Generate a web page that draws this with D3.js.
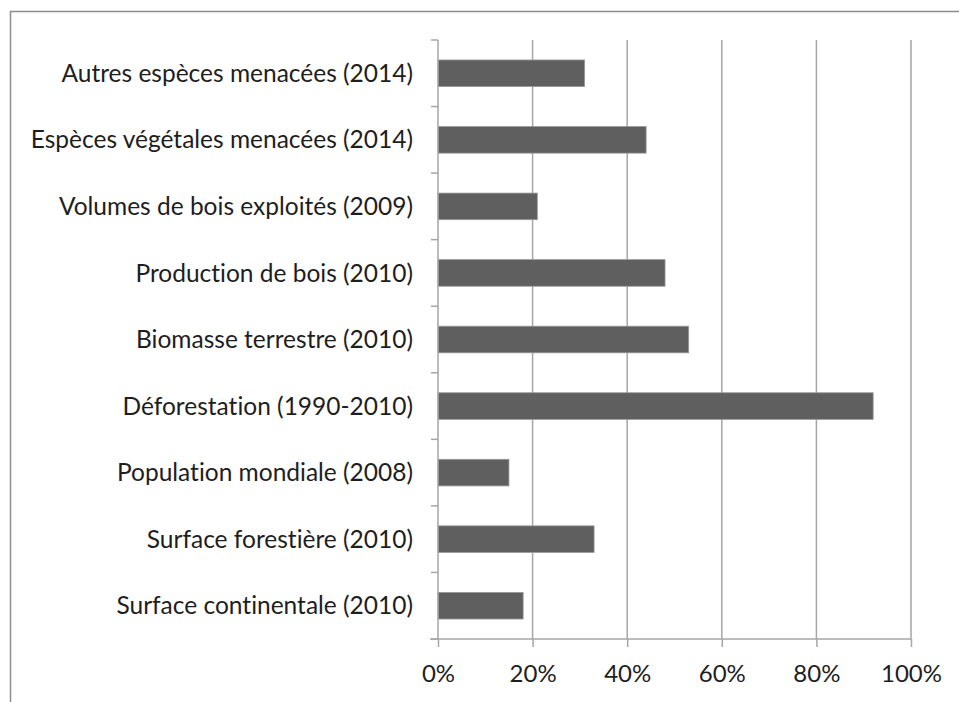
<!DOCTYPE html>
<html>
<head>
<meta charset="utf-8">
<script src="https://cdn.jsdelivr.net/npm/d3@7"></script>
<style>
  body { margin: 0; background: #fff; }
  svg text { font-family: Lato, "Open Sans", sans-serif; fill: #1e1e1e; font-variant-ligatures: none; }
</style>
</head>
<body>
<div id="chart"></div>
<script>
// categories top to bottom, value as share (0..1)
var categories = [
    'Autres espèces menacées (2014)',
    'Espèces végétales menacées (2014)',
    'Volumes de bois exploités (2009)',
    'Production de bois (2010)',
    'Biomasse terrestre (2010)',
    'Déforestation (1990-2010)',
    'Population mondiale (2008)',
    'Surface forestière (2010)',
    'Surface continentale (2010)'
];
var values = [0.31, 0.44, 0.21, 0.48, 0.53, 0.92, 0.15, 0.33, 0.18];
var xTicks = [0, 0.2, 0.4, 0.6, 0.8, 1];

var svgWidth = 959, svgHeight = 702;
var margin = { top: 40, left: 438, right: 48, bottom: 63 };
var width = svgWidth - margin.left - margin.right;
var height = svgHeight - margin.top - margin.bottom;

var svg = d3.select('#chart')
    .append('svg')
    .attr('width', svgWidth)
    .attr('height', svgHeight);

// outer frame (cropped on the right and bottom)
svg.append('rect')
    .attr('x', 10.5).attr('y', 11.5)
    .attr('width', 1000).attr('height', 1000)
    .style('fill', 'none')
    .style('stroke', '#8c8c8c')
    .style('stroke-width', 1.5);

var g = svg.append('g')
    .attr('transform', 'translate(' + margin.left + ',' + margin.top + ')');

var x = d3.scaleLinear().domain([0, 1]).range([0, width]);
var y = d3.scaleBand().domain(categories).range([0, height]).paddingInner(0.6).paddingOuter(0.3);

// vertical gridlines
g.selectAll('line.grid')
    .data(xTicks.slice(1))
    .enter()
    .append('line')
    .attr('class', 'grid')
    .attr('x1', function(d) { return x(d); })
    .attr('x2', function(d) { return x(d); })
    .attr('y1', 0)
    .attr('y2', height)
    .style('stroke', '#a6a6a6')
    .style('stroke-width', 1.5);

// bars
g.selectAll('rect.bar')
    .data(values)
    .enter()
    .append('rect')
    .attr('class', 'bar')
    .attr('x', 0)
    .attr('y', function(d, i) { return y(categories[i]); })
    .attr('width', function(d) { return x(d); })
    .attr('height', y.bandwidth())
    .style('fill', '#5f5f5f')
    .style('stroke', '#9a9a9a')
    .style('stroke-width', 0.8);

// y axis: ticks between categories, pointing outward
var yTickPos = d3.range(categories.length + 1).map(function(i) { return i * height / categories.length; });
g.append('line')
    .attr('x1', 0).attr('x2', 0)
    .attr('y1', 0).attr('y2', height)
    .style('stroke', '#a6a6a6').style('stroke-width', 1.5);
g.selectAll('line.ytick')
    .data(yTickPos)
    .enter()
    .append('line')
    .attr('class', 'ytick')
    .attr('x1', -7).attr('x2', 0)
    .attr('y1', function(d) { return d; })
    .attr('y2', function(d) { return d; })
    .style('stroke', '#a6a6a6').style('stroke-width', 1.5);

g.selectAll('text.ylabel')
    .data(categories)
    .enter()
    .append('text')
    .attr('class', 'ylabel')
    .attr('x', -25)
    .attr('y', function(d) { return y(d) + y.bandwidth() / 2; })
    .attr('dy', '0.35em')
    .attr('text-anchor', 'end')
    .style('font-size', '24.5px')
    .text(function(d) { return d; });

// x axis
var xAxis = d3.axisBottom(x)
    .tickValues(xTicks)
    .tickSize(8)
    .tickPadding(18)
    .tickFormat(d3.format('.0%'));

var xg = g.append('g')
    .attr('transform', 'translate(0,' + height + ')')
    .call(xAxis);
xg.select('.domain').remove();
xg.append('line')
    .attr('x1', -8).attr('x2', width)
    .style('stroke', '#a6a6a6').style('stroke-width', 1.5);
xg.selectAll('.tick line').style('stroke', '#a6a6a6').style('stroke-width', 1.5);
xg.selectAll('.tick text')
    .style('font-size', '24px')
    .style('font-family', 'Lato, sans-serif')
    .attr('fill', '#1e1e1e');
</script>
</body>
</html>
